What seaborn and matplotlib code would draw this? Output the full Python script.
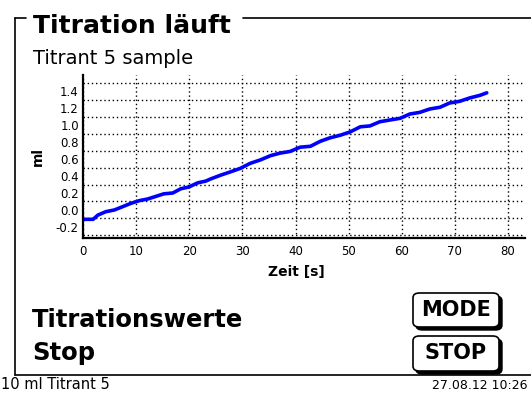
import numpy as np
import pandas as pd
import matplotlib
matplotlib.use("Agg")
import matplotlib.pyplot as plt
from matplotlib.patches import FancyBboxPatch
from matplotlib.lines import Line2D
from matplotlib.ticker import MultipleLocator
import seaborn as sns

# values
zeit = [0, 1.9, 2.8, 4.3, 5.9, 7.5, 9.1, 10.6, 12.2, 13.7, 15.2, 16.9, 18.4, 19.9,
        21.6, 23.1, 24.0, 25.9, 27.8, 29.6, 31.5, 33.4, 35.3, 37.1, 39.0, 40.9,
        42.8, 44.7, 46.5, 48.4, 50.3, 52.2, 54.0, 55.9, 57.8, 59.7, 61.5, 63.4,
        65.3, 67.2, 69.0, 70.9, 72.8, 74.7, 76.0]
ml = [-0.11, -0.11, -0.06, -0.02, 0.00, 0.04, 0.08, 0.11, 0.13, 0.16, 0.19, 0.20,
      0.25, 0.27, 0.32, 0.34, 0.365, 0.41, 0.45, 0.49, 0.55, 0.59, 0.64, 0.67,
      0.69, 0.74, 0.75, 0.81, 0.85, 0.88, 0.92, 0.98, 0.99, 1.04, 1.06, 1.08,
      1.13, 1.15, 1.19, 1.21, 1.26, 1.28, 1.32, 1.35, 1.38]
x_ticks = [0, 10, 20, 30, 40, 50, 60, 70, 80]
y_ticks = [-0.2, 0.0, 0.2, 0.4, 0.6, 0.8, 1.0, 1.2, 1.4]

title = "Titration läuft"
subtitle = "Titrant 5 sample"
x_label = "Zeit [s]"
y_label = "ml"
menu = [("Titrationswerte", "MODE"), ("Stop", "STOP")]
footer_left = "10 ml Titrant 5"
footer_right = "27.08.12 10:26"

df = pd.DataFrame({"Zeit": zeit, "ml": ml})

sns.set_style("white")
plt.rcParams["font.family"] = ["DejaVu Sans"]
plt.rcParams["text.color"] = "black"
plt.rcParams["xtick.color"] = "black"
plt.rcParams["ytick.color"] = "black"

W, H = 531, 399
fig = plt.figure(figsize=(W / 100, H / 100), dpi=100)
fig.patch.set_facecolor("white")

def fx(px):
    return px / W

def fy(py):
    return 1 - py / H

# plot area
ax = fig.add_axes([fx(83), fy(238), fx(525) - fx(83), fy(75) - fy(238)])
sns.lineplot(data=df, x="Zeit", y="ml", ax=ax, color="#0000ff", linewidth=2.6)
ax.set_xlim(0.25, 83.2)
ax.set_ylim(-0.33, 1.59)
ax.set_xticks(x_ticks)
ax.set_yticks(y_ticks)
ax.set_yticklabels([f"{v:.1f}" for v in y_ticks])
ax.yaxis.set_minor_locator(MultipleLocator(0.2, offset=0.1))
ax.tick_params(axis="both", which="both", length=0, labelsize=8.5, colors="black")
ax.tick_params(axis="x", pad=5)
ax.tick_params(axis="y", pad=3)
ax.grid(False)
ax.xaxis.grid(True, which="major", color="black", linestyle=(0, (1, 2)), linewidth=1)
ax.yaxis.grid(True, which="minor", color="black", linestyle=(0, (1, 2)), linewidth=1)
for s in ["top", "right"]:
    ax.spines[s].set_visible(False)
for s in ["left", "bottom"]:
    ax.spines[s].set_color("black")
    ax.spines[s].set_linewidth(1.6)
ax.set_xlabel("")
ax.set_ylabel("")
fig.text(fx(296), fy(272), x_label, fontsize=10, fontweight="bold", ha="center", va="center")
fig.text(fx(38), fy(157), y_label, fontsize=10, fontweight="bold", rotation=90,
         ha="center", va="center")

# frame around the screen
frame = [([15, 26], [18, 18]), ([243, 531], [18, 18]),
         ([15, 15], [18, 375]), ([15, 531], [375, 375])]
for xs, ys in frame:
    fig.add_artist(Line2D([fx(v) for v in xs], [fy(v) for v in ys],
                          color="black", linewidth=1.2, transform=fig.transFigure))

fig.text(fx(33), fy(33), title, fontsize=18, fontweight="bold", ha="left", va="baseline")
fig.text(fx(33), fy(64), subtitle, fontsize=14, ha="left", va="baseline")

# menu lines with key buttons
rows = [(327, 293, 328), (360, 336, 372)]
for (label, key), (base, top, bottom) in zip(menu, rows):
    fig.text(fx(32), fy(base), label, fontsize=17.5, fontweight="bold",
             ha="left", va="baseline")
    shadow = FancyBboxPatch((fx(416), fy(bottom + 2)), fx(502) - fx(416),
                            fy(top + 3) - fy(bottom + 2),
                            boxstyle="round,pad=0,rounding_size=0.012",
                            facecolor="black", edgecolor="black",
                            transform=fig.transFigure)
    box = FancyBboxPatch((fx(413), fy(bottom - 1)), fx(499) - fx(413),
                         fy(top) - fy(bottom - 1),
                         boxstyle="round,pad=0,rounding_size=0.012",
                         facecolor="white", edgecolor="black", linewidth=1.2,
                         transform=fig.transFigure)
    fig.add_artist(shadow)
    fig.add_artist(box)
    fig.text(fx(456), fy((top + bottom) / 2 - 1), key, fontsize=15,
             fontweight="bold", ha="center", va="center")

fig.text(fx(1), fy(389), footer_left, fontsize=10.5, ha="left", va="baseline")
fig.text(fx(432), fy(389), footer_right, fontsize=9, ha="left", va="baseline")

fig.savefig("out.png", dpi=100)
